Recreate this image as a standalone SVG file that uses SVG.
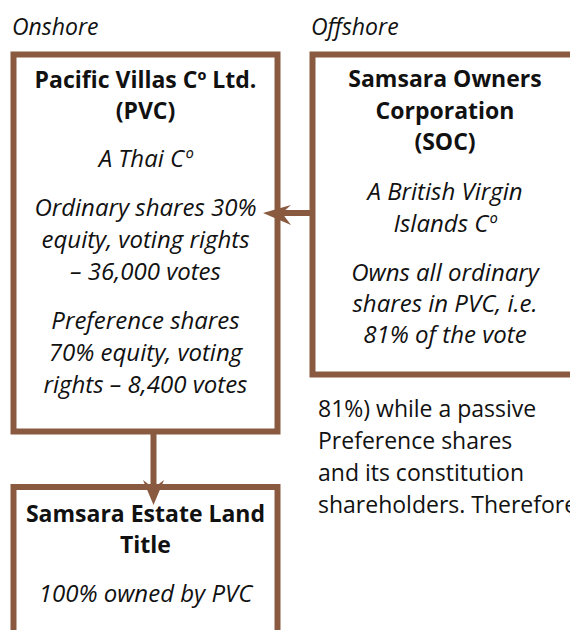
<svg xmlns="http://www.w3.org/2000/svg" width="570" height="630" viewBox="0 0 570 630">
<defs>
<style>
.box{fill:#ffffff;stroke:#8a5a40;stroke-width:6}
.edge{stroke:#8a5a40;stroke-width:6;fill:none}
.head{fill:#8a5a40}
text{font-family:"Open Sans","Noto Sans","DejaVu Sans",sans-serif;fill:#111111;font-size:23px}
.b{font-weight:bold;text-anchor:middle}
.i{font-style:italic;text-anchor:middle;font-size:24px}
.lbl{font-style:italic}
</style>
</defs>
<rect width="570" height="630" fill="#ffffff"/>
<text class="lbl" x="12" y="35">Onshore</text>
<text class="lbl" x="311" y="35">Offshore</text>
<g id="pvc">
<rect class="box" x="13.5" y="54.5" width="264" height="377"/>
<text class="b" x="145.5" y="88">Pacific Villas Cº Ltd.</text>
<text class="b" x="145.5" y="119">(PVC)</text>
<text class="i" x="145.5" y="167">A Thai Cº</text>
<text class="i" x="145.5" y="216">Ordinary shares 30%</text>
<text class="i" x="145.5" y="248">equity, voting rights</text>
<text class="i" x="145.5" y="280">– 36,000 votes</text>
<text class="i" x="145.5" y="329">Preference shares</text>
<text class="i" x="145.5" y="361">70% equity, voting</text>
<text class="i" x="145.5" y="393">rights – 8,400 votes</text>
</g>
<g id="soc">
<rect class="box" x="312.5" y="54.5" width="270" height="320"/>
<text class="b" x="445" y="87">Samsara Owners</text>
<text class="b" x="445" y="119">Corporation</text>
<text class="b" x="445" y="150">(SOC)</text>
<text class="i" x="445" y="200">A British Virgin</text>
<text class="i" x="445" y="232">Islands Cº</text>
<text class="i" x="445" y="281">Owns all ordinary</text>
<text class="i" x="445" y="312">shares in PVC, i.e.</text>
<text class="i" x="445" y="343">81% of the vote</text>
</g>
<g id="land">
<rect class="box" x="13.5" y="487" width="264" height="160"/>
<text class="b" x="145.5" y="522">Samsara Estate Land</text>
<text class="b" x="145.5" y="553">Title</text>
<text class="i" x="145.5" y="602">100% owned by PVC</text>
</g>
<g id="body">
<text x="318" y="417">81%) while a passive</text>
<text x="318" y="449">Preference shares</text>
<text x="318" y="481">and its constitution</text>
<text x="318" y="513">shareholders. Therefore</text>
</g>
<g id="connectors">
<line class="edge" x1="310" y1="213" x2="275" y2="213"/>
<path class="head" d="M263,213 L291,205 L282,213 L291,225 Z"/>
<line class="edge" x1="153.5" y1="434" x2="153.5" y2="492"/>
<path class="head" d="M153.5,505 L143,480 L153.5,488 L164,480 Z"/>
</g>
</svg>
